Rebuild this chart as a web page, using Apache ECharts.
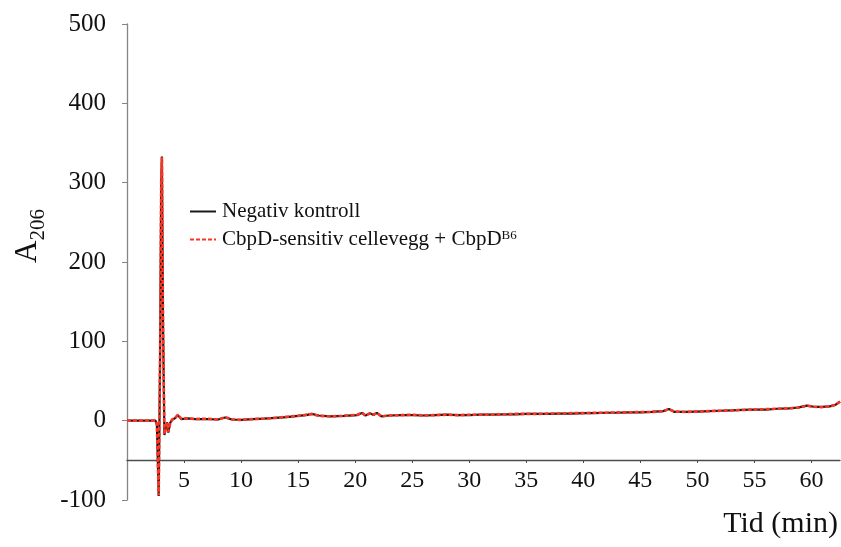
<!DOCTYPE html>
<html>
<head>
<meta charset="utf-8">
<script src="https://cdn.jsdelivr.net/npm/echarts@6/dist/echarts.min.js"></script>
<style>
html,body{margin:0;padding:0;background:#fff;}
#chart{width:841px;height:547px;}
</style>
</head>
<body>
<div id="chart"></div>
<script>
// tid (min) for hver maaling
var tid = [0, 2.5, 2.62, 2.78, 2.9, 3.0, 3.06, 3.16, 3.28, 3.42, 3.52, 3.62, 3.78, 3.95, 4.2, 4.45, 4.75, 5.3, 6, 7, 8, 8.6, 9.2, 10, 11, 12, 13, 14, 15, 15.7, 16.2, 16.8, 17.8, 19, 20.2, 20.6, 20.9, 21.3, 21.6, 21.9, 22.3, 23, 24, 25, 26, 27, 28, 29, 30, 31, 32, 33, 34, 35, 36, 37, 38, 39, 40, 41, 42, 43, 44, 45, 46, 47, 47.5, 48, 49, 50, 51, 52, 53, 54, 55, 56, 57, 58, 58.8, 59.6, 60.2, 60.9, 61.6, 62.1, 62.5];
// negativ kontroll
var negativ = [0, 0, -5, -95, 80, 300, 333, 120, -18, -8, -2, -15, -3, 1, 3, 7, 2, 3, 2, 2, 1.5, 4, 1.5, 1, 2, 2.5, 3.5, 4.5, 6, 7, 8.5, 6.5, 5.5, 6, 7, 9.7, 6.5, 9.5, 7, 9.8, 5.5, 6.5, 7, 7, 6.5, 7, 7.5, 7, 7, 7.5, 7.5, 8, 8, 8.5, 8.5, 8.5, 9, 9, 9.5, 9.5, 10, 10, 10.5, 10.5, 11, 12, 14.7, 11, 11, 11.5, 12, 12.5, 13, 13.5, 14, 14, 15, 15.5, 16.5, 19, 17.5, 17.5, 18, 20, 24];
// CbpD-sensitiv cellevegg + CbpD B6
var cbpd = [0, 0, -4, -94, 82, 302, 332, 118, -17, -7, -2.5, -14, -3.5, 1.5, 3, 7.5, 2.5, 3, 2, 2.5, 1.5, 4.5, 1.5, 1, 2, 2.5, 3.5, 5, 6, 7.5, 8.5, 6, 5.5, 6, 7.5, 10, 6.5, 9, 7.5, 10, 5.5, 6.5, 7, 7.5, 6.5, 7, 7.5, 7, 7.5, 7.5, 7.5, 8, 8.5, 8.5, 8.5, 9, 9, 9.5, 9.5, 10, 10, 10.5, 10.5, 11, 11, 12, 14.5, 11.5, 11, 11.5, 12, 12.5, 13, 13.5, 14, 14.5, 15, 15.5, 16.5, 19, 17.5, 17, 18, 20, 24];
var serieNavn = ['Negativ kontroll', 'CbpD-sensitiv cellevegg + CbpD{sup|B6}'];

var font = 'Liberation Serif';
var myChart = echarts.init(document.getElementById('chart'));

function par(verdier){
	var d = [];
	for (var i = 0; i < tid.length; i++) {
		d.push([tid[i], verdier[i]]);
	}
	return d;
}

var option = {
	animation: false,
	grid: { left: 127, right: 1, top: 24, bottom: 47 },
	legend: {
		orient: 'vertical',
		left: 184,
		top: 196,
		itemWidth: 26,
		itemHeight: 14,
		itemGap: 7,
		itemStyle: { opacity: 0 },
		data: ['neg', 'cbpd'],
		formatter: function(name){
			return name == 'neg' ? serieNavn[0] : serieNavn[1];
		},
		textStyle: {
			fontFamily: font,
			fontSize: 21,
			color: '#111',
			padding: [0, 0, 0, 1],
			rich: {
				sup: { fontFamily: font, fontSize: 13, verticalAlign: 'top', padding: [0, 0, 8, 0], color: '#111' }
			}
		}
	},
	xAxis: {
		type: 'value',
		min: 0,
		max: 62.5,
		interval: 5,
		offset: -40,
		axisLine: { onZero: false, lineStyle: { color: '#4d4d4d', width: 1.3 } },
		axisTick: { show: true, length: 3, lineStyle: { color: '#4d4d4d' } },
		axisLabel: { showMinLabel: false, showMaxLabel: false, margin: 9, fontFamily: font, fontSize: 24, color: '#111' },
		splitLine: { show: false }
	},
	yAxis: {
		type: 'value',
		min: -100,
		max: 500,
		interval: 100,
		axisLine: { show: true, lineStyle: { color: '#858585', width: 1.3 } },
		axisTick: { show: true, length: 5, lineStyle: { color: '#858585' } },
		axisLabel: { margin: 21, fontFamily: font, fontSize: 25, color: '#111' },
		splitLine: { show: false }
	},
	graphic: [
		{
			type: 'text',
			x: 28,
			y: 236,
			rotation: Math.PI / 2,
			style: {
				text: '{a|A}{b|206}',
				align: 'center',
				verticalAlign: 'middle',
				fill: '#111',
				rich: {
					a: { fontFamily: font, fontSize: 31, lineHeight: 31, verticalAlign: 'top' },
					b: { fontFamily: font, fontSize: 21, lineHeight: 21, verticalAlign: 'top', padding: [15, 0, 0, 0] }
				}
			}
		},
		{
			type: 'text',
			x: 838,
			y: 524,
			style: {
				text: 'Tid (min)',
				align: 'right',
				verticalAlign: 'middle',
				fontFamily: font,
				fontSize: 30,
				fill: '#111'
			}
		}
	],
	series: [
		{
			name: 'neg',
			type: 'line',
			symbol: 'none',
			data: par(negativ),
			lineStyle: { color: '#1a1a1a', width: 2.2 },
			itemStyle: { color: '#1a1a1a' },
			z: 2
		},
		{
			name: 'cbpd',
			type: 'line',
			symbol: 'none',
			data: par(cbpd),
			lineStyle: { color: '#ff3322', width: 2.6, type: [4, 2] },
			itemStyle: { color: '#ff3322' },
			z: 3
		}
	]
};

myChart.setOption(option);
</script>
</body>
</html>
